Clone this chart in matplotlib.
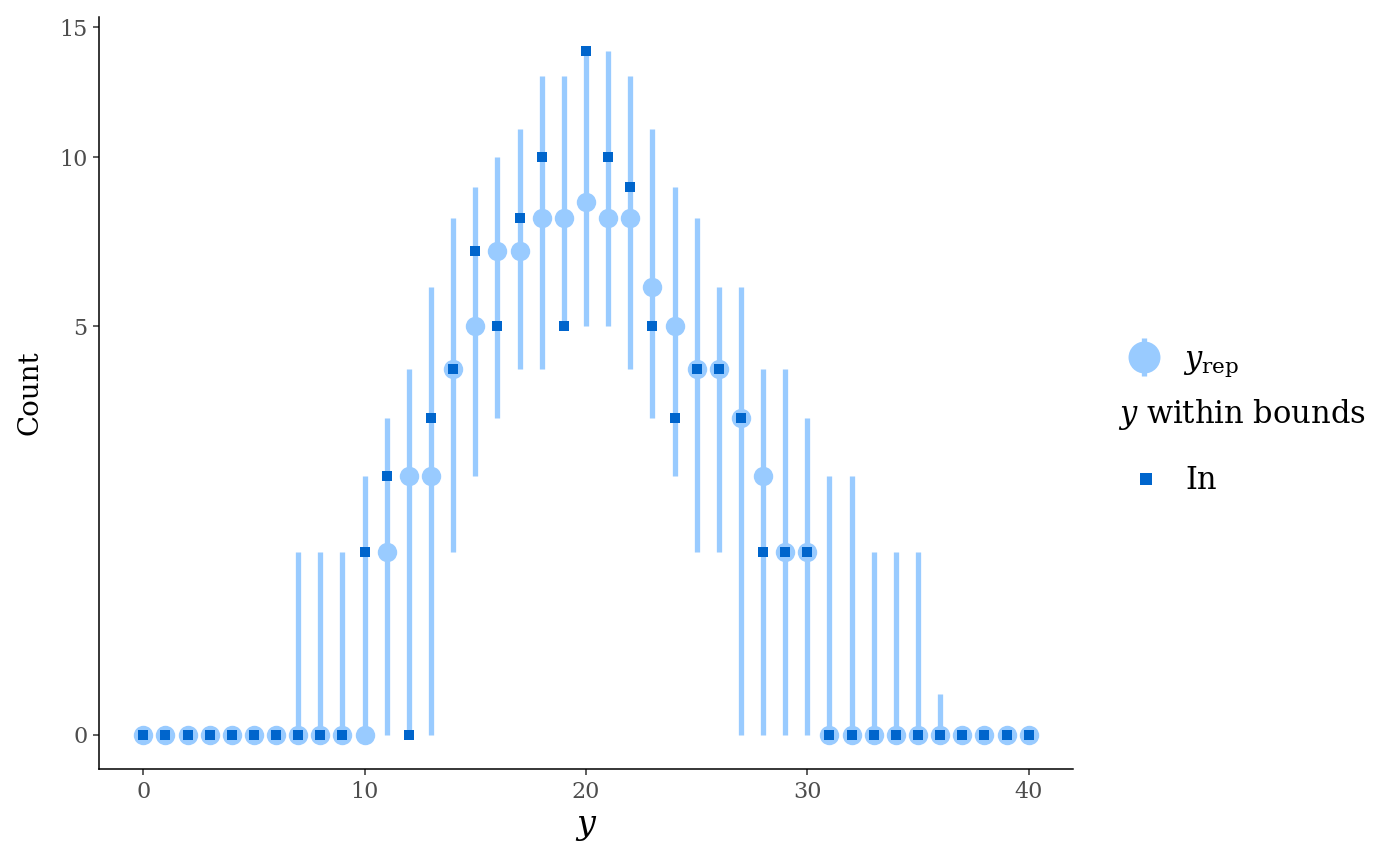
import matplotlib.pyplot as plt
import numpy as np
from matplotlib.lines import Line2D

plt.rcParams['font.family'] = 'DejaVu Serif'
plt.rcParams['mathtext.fontset'] = 'dejavuserif'

# counts 0..40
x = np.arange(0, 41)
y_obs = [0, 0, 0, 0, 0, 0, 0, 0, 0, 0,
         1, 2, 0, 3, 4, 7, 5, 8, 10, 5,
         14, 10, 9, 5, 3, 4, 4, 3, 1, 1,
         1, 0, 0, 0, 0, 0, 0, 0, 0, 0, 0]
rep_med = [0, 0, 0, 0, 0, 0, 0, 0, 0, 0,
           0, 1, 2, 2, 4, 5, 7, 7, 8, 8,
           8.5, 8, 8, 6, 5, 4, 4, 3, 2, 1,
           1, 0, 0, 0, 0, 0, 0, 0, 0, 0, 0]
rep_lo = [0, 0, 0, 0, 0, 0, 0, 0, 0, 0,
          0, 0, 0, 0, 1, 2, 3, 4, 4, 5,
          5, 5, 4, 3, 2, 1, 1, 0, 0, 0,
          0, 0, 0, 0, 0, 0, 0, 0, 0, 0, 0]
rep_hi = [0, 0, 0, 0, 0, 0, 0, 1, 1, 1,
          2, 3, 4, 6, 8, 9, 10, 11, 13, 13,
          14, 14, 13, 11, 9, 8, 6, 6, 4, 4,
          3, 2, 2, 1, 1, 1, 0.05, 0, 0, 0, 0]

light = '#99cbff'
dark = '#0065cc'


def fwd(v):
    v = np.asarray(v, dtype=float)
    return np.sign(v) * np.sqrt(np.abs(v))


def inv(v):
    v = np.asarray(v, dtype=float)
    return np.sign(v) * v ** 2


fig = plt.figure(figsize=(14, 8.66), dpi=100)
ax = fig.add_axes([0.0707, 0.112, 0.6957, 0.8684])
ax.set_yscale('function', functions=(fwd, inv))

ax.vlines(x, rep_lo, rep_hi, color=light, lw=3.8, zorder=2)
ax.plot(x, rep_med, 'o', ms=14, color=light, mew=0, zorder=3)
ax.plot(x, y_obs, 's', ms=7.8, color=dark, mew=0, zorder=4)

ax.set_xlim(-2, 42)
ax.set_ylim(-0.035, 15.44)
ax.set_xticks([0, 10, 20, 30, 40])
ax.set_yticks([0, 5, 10, 15])
ax.minorticks_off()

for s in ['top', 'right']:
    ax.spines[s].set_visible(False)
for s in ['left', 'bottom']:
    ax.spines[s].set_linewidth(1.1)
    ax.spines[s].set_color('black')
ax.tick_params(length=4.3, width=1.1, color='#333333', labelcolor='#4d4d4d',
               labelsize=16, pad=4)

ax.set_xlabel('$y$', fontsize=24, labelpad=6)
ax.set_ylabel('Count', fontsize=20, labelpad=11)

# legend 1: y_rep pointrange key
key_line = Line2D([], [], color=light, marker='|', ms=27, mew=3.8, ls='')
key_dot = Line2D([], [], color=light, marker='o', ms=23, mew=0, ls='')
leg1 = fig.legend([(key_line, key_dot)], [r'$y_{\mathrm{rep}}$'],
                  loc='center left', bbox_to_anchor=(0.801, 0.583),
                  frameon=False, fontsize=22, borderpad=0, borderaxespad=0,
                  handlelength=1.5, handletextpad=0.5)

# legend 2: observed within bounds
key_sq = Line2D([], [], color=dark, marker='s', ms=8.5, mew=0, ls='')
leg2 = fig.legend([key_sq], ['In'], title=r'$y$ within bounds',
                  title_fontsize=22, fontsize=22, alignment='left',
                  loc='upper left', bbox_to_anchor=(0.7986, 0.542),
                  frameon=False, borderpad=0, borderaxespad=0,
                  labelspacing=1.1, handlelength=1.8, handletextpad=0.39)

fig.savefig('out.png', dpi=100)
